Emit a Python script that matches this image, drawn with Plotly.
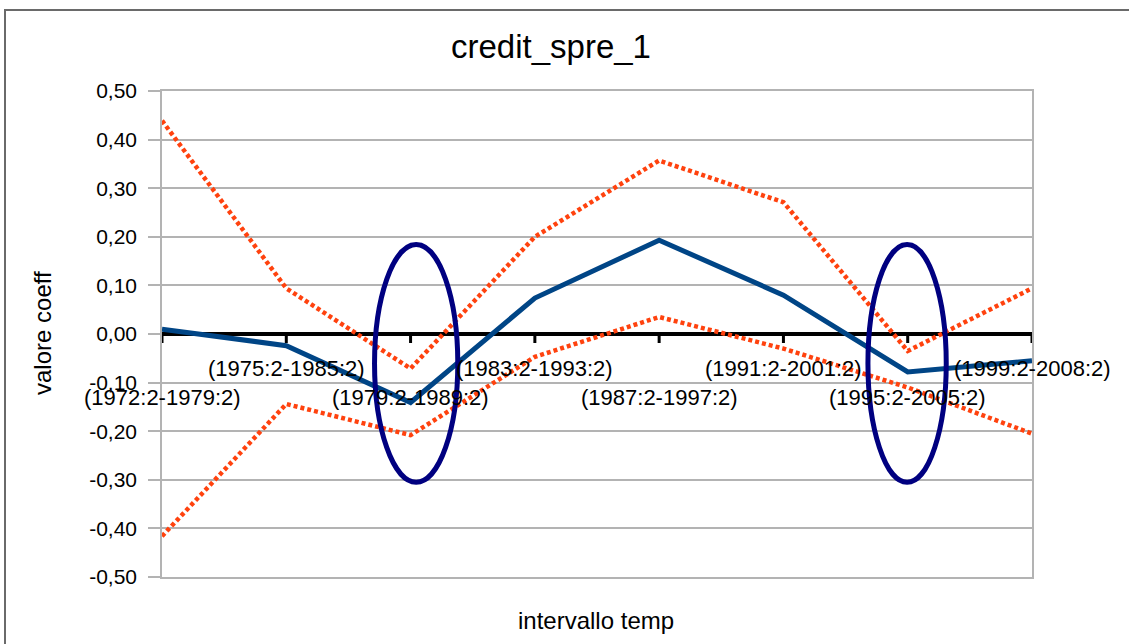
import plotly.graph_objects as go

# Rolling-window estimation intervals
categories = [
    "(1972:2-1979:2)", "(1975:2-1985:2)", "(1979:2-1989:2)", "(1983:2-1993:2)",
    "(1987:2-1997:2)", "(1991:2-2001:2)", "(1995:2-2005:2)", "(1999:2-2008:2)",
]
# Point estimate of the coefficient and its upper / lower bands
coeff = [0.010, -0.024, -0.141, 0.074, 0.193, 0.080, -0.078, -0.055]
upper = [0.439, 0.094, -0.071, 0.200, 0.357, 0.271, -0.035, 0.094]
lower = [-0.416, -0.144, -0.208, -0.047, 0.035, -0.030, -0.110, -0.205]

# y-axis ticks, written with a decimal comma and a plain hyphen
y_ticks = [0.5, 0.4, 0.3, 0.2, 0.1, 0.0, -0.1, -0.2, -0.3, -0.4, -0.5]
y_tick_text = ["0,50", "0,40", "0,30", "0,20", "0,10", "0,00",
               "-0,10", "-0,20", "-0,30", "-0,40", "-0,50"]

BLUE = "#004586"
RED = "#ff420e"
GRID = "#b3b3b3"
FONT = "Liberation Sans, Arial, sans-serif"

W, H = 1129, 644
L, R, T, B = 162, 97, 91, 67
PW, PH = W - L - R, H - T - B


def px_x(p):
    return (p - L) / PW


def px_y(p):
    return (H - B - p) / PH


fig = go.Figure()

for band in (upper, lower):
    fig.add_trace(go.Scatter(
        x=categories, y=band, mode="lines",
        line=dict(color=RED, width=4.5, dash="4px,3px"),
        showlegend=False, hoverinfo="skip",
    ))

fig.add_trace(go.Scatter(
    x=categories, y=coeff, mode="lines",
    line=dict(color=BLUE, width=5),
    showlegend=False,
))

shapes = []
# small downward tick marks on the zero axis
for i in range(len(categories)):
    shapes.append(dict(
        type="line", xref="x", yref="y", x0=i, x1=i,
        ysizemode="pixel", yanchor=0, y0=0, y1=-9,
        line=dict(color="black", width=3), layer="above",
    ))

# highlighted windows
for cx0, cx1 in ((1.71, 2.38), (5.68, 6.31)):
    shapes.append(dict(
        type="circle", xref="x", yref="y",
        x0=cx0, x1=cx1, y0=-0.305, y1=0.184,
        line=dict(color="#000080", width=5), layer="above",
    ))

# outer chart frame
shapes.append(dict(
    type="rect", xref="paper", yref="paper",
    x0=px_x(5), x1=px_x(1160), y0=px_y(670), y1=px_y(10),
    line=dict(color="#6a6a6a", width=2),
))

annotations = []
for i, lab in enumerate(categories):
    annotations.append(dict(
        x=lab, y=0, xref="x", yref="y", text=lab, showarrow=False,
        xanchor="center", yanchor="middle",
        yshift=-34 if i % 2 else -63,
        font=dict(family=FONT, size=22, color="black"),
    ))

annotations += [
    dict(text="credit_spre_1", xref="paper", yref="paper",
         x=px_x(551), y=px_y(47), xanchor="center", yanchor="middle",
         showarrow=False, font=dict(family=FONT, size=33, color="black")),
    dict(text="intervallo temp", xref="paper", yref="paper",
         x=px_x(596), y=px_y(620), xanchor="center", yanchor="middle",
         showarrow=False, font=dict(family=FONT, size=24, color="black")),
    dict(text="valore coeff", xref="paper", yref="paper",
         x=px_x(42), y=px_y(333), xanchor="center", yanchor="middle",
         textangle=-90, showarrow=False,
         font=dict(family=FONT, size=24, color="black")),
]

fig.update_layout(
    width=W, height=H,
    margin=dict(l=L, r=R, t=T, b=B),
    paper_bgcolor="white", plot_bgcolor="white",
    shapes=shapes, annotations=annotations,
    xaxis=dict(
        type="category", range=[0, len(categories) - 1],
        showticklabels=False, showgrid=False, zeroline=False,
        showline=True, mirror=True, linecolor=GRID, linewidth=1.5,
        ticks="",
    ),
    yaxis=dict(
        range=[-0.5, 0.5],
        tickmode="array", tickvals=y_ticks, ticktext=y_tick_text,
        showgrid=True, gridcolor=GRID, gridwidth=1.5,
        zeroline=True, zerolinecolor="black", zerolinewidth=3.5,
        showline=True, mirror=True, linecolor=GRID, linewidth=1.5,
        ticks="outside", ticklen=12, tickcolor=GRID, tickwidth=1.5,
        ticklabelstandoff=7,
        tickfont=dict(family=FONT, size=21, color="black"),
    ),
)

fig.write_html("out.html")
